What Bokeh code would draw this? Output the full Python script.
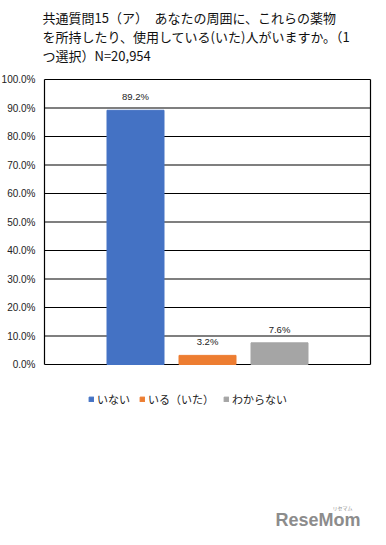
from bokeh.plotting import figure
from bokeh.models import ColumnDataSource, Range1d, Legend, LegendItem, Label
from bokeh.core.properties import value
from bokeh.embed import file_html
from bokeh.resources import INLINE

# survey answers and their shares (percent of respondents)
categories = ["いない", "いる（いた）", "わからない"]
shares = [89.2, 3.2, 7.6]
colors = ["#4472C4", "#ED7D31", "#A5A5A5"]
y_ticks = [0, 10, 20, 30, 40, 50, 60, 70, 80, 90, 100]
title_lines = [
    "共通質問15（ア）　あなたの周囲に、これらの薬物",
    "を所持したり、使用している(いた)人がいますか。（1",
    "つ選択）N=20,954",
]

FONT = "Noto Sans CJK JP"
LATIN = "Liberation Sans"
W, H = 386, 545

# page layout in pixels: plot area box and bar pitch
AREA_L, AREA_R, AREA_T, AREA_B = 44, 370, 79, 364
FIRST_BAR_CX, BAR_PITCH, BAR_W = 135, 72, 57
Y_SPAN = AREA_B - AREA_T


def xdata(px):
    return (px - FIRST_BAR_CX) / BAR_PITCH


def ydata(px):
    return (AREA_B - px) / Y_SPAN


p = figure(width=W, height=H, output_backend="svg", toolbar_location=None,
           x_range=Range1d(xdata(0), xdata(W)), y_range=Range1d(ydata(H), ydata(0)),
           min_border=0, x_axis_type=None, y_axis_type=None)
p.outline_line_color = None
p.background_fill_color = "white"
p.border_fill_color = "white"
p.grid.visible = False

x_lo, x_hi = xdata(AREA_L), xdata(AREA_R)
grid = ColumnDataSource(dict(
    y=[t / 100 for t in y_ticks],
    label=[f"{t:.1f}%" for t in y_ticks],
))

# horizontal gridlines and the plot-area box
p.segment(x0=x_lo, x1=x_hi, y0="y", y1="y", source=grid,
          line_color="black", line_width=1.2)
p.segment(x0=[x_lo, x_hi], x1=[x_lo, x_hi], y0=0, y1=1,
          line_color="black", line_width=1.2)

# y tick labels
p.text(x=x_lo, y="y", text="label", source=grid, x_offset=-9,
       text_align="right", text_baseline="middle", text_font=value(LATIN),
       text_font_size="10px", text_color="#222222")

bars = ColumnDataSource(dict(
    x=list(range(len(categories))),
    top=[v / 100 for v in shares],
    color=colors,
    label=[f"{v:.1f}%" for v in shares],
))
r = p.vbar(x="x", bottom=0, top="top", width=BAR_W / BAR_PITCH, color="color",
           source=bars)

# value labels above bars
p.text(x="x", y="top", text="label", source=bars, text_align="center",
       text_baseline="bottom", y_offset=-8, text_font_size="9.5px",
       text_font=value(LATIN), text_color="#222222")

# three-line heading
for i, line in enumerate(title_lines):
    p.add_layout(Label(x=42, y=H - 17 - i * 19, x_units="screen", y_units="screen",
                       text=line, text_font=FONT, text_font_size="13px",
                       text_color="#111111", text_baseline="middle"))

# legend under the chart
items = [LegendItem(label=c, renderers=[r], index=i) for i, c in enumerate(categories)]
legend = Legend(items=items, orientation="horizontal", location=(88, H - 407),
                label_text_font=FONT, label_text_font_size="11px",
                label_text_color="#222222", glyph_width=6, glyph_height=6,
                label_height=12, spacing=9, label_standoff=3,
                background_fill_alpha=0, border_line_color=None,
                padding=0, margin=0)
p.add_layout(legend, "center")

# site logo mark
p.add_layout(Label(x=275, y=16, x_units="screen", y_units="screen",
                   text="ReseMom", text_font=LATIN, text_font_size="18px",
                   text_font_style="bold", text_color="#8c8c8c"))
p.add_layout(Label(x=332, y=35, x_units="screen", y_units="screen",
                   text="リセマム", text_font=FONT, text_font_size="5px",
                   text_color="#8c8c8c"))

open("out.html", "w").write(file_html(p, INLINE))
